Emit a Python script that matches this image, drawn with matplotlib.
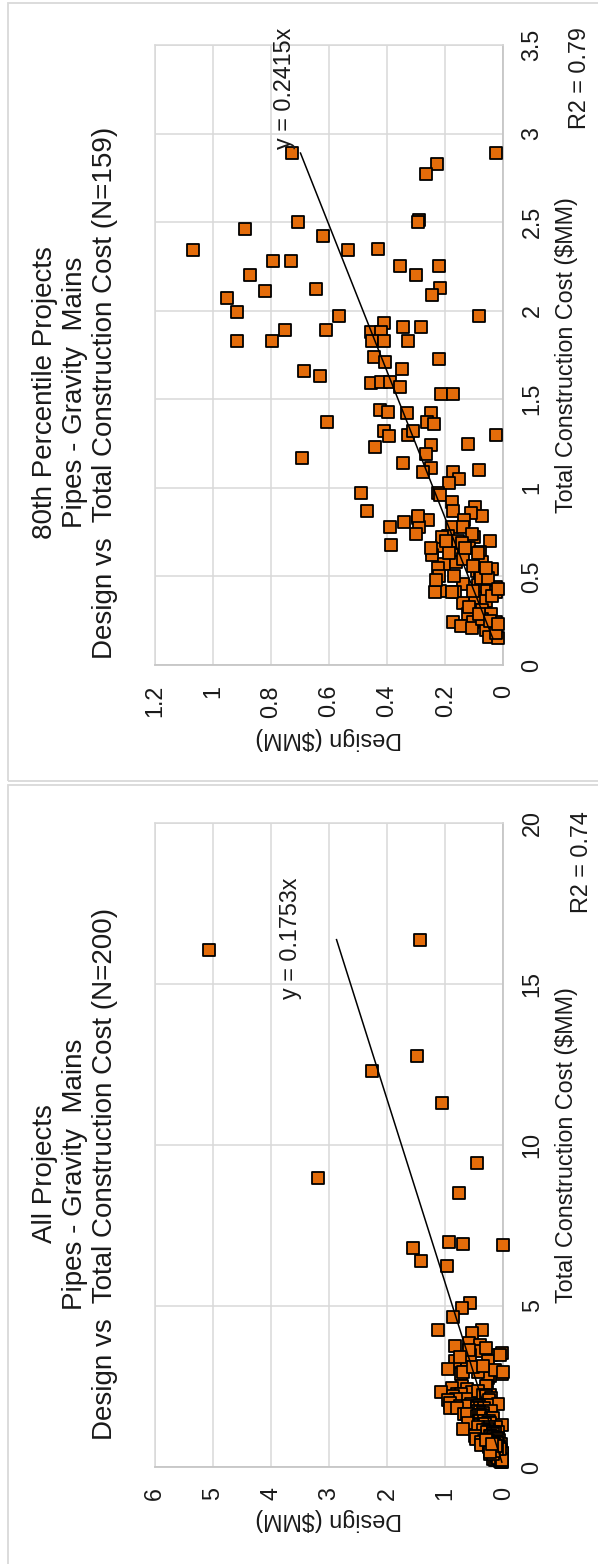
import matplotlib
matplotlib.use("Agg")
import matplotlib.pyplot as plt
from matplotlib.patches import Rectangle
import numpy as np

# ============================================================
# Data - $MM
# ============================================================
# projects up to the 80th percentile of construction cost (N=159)
cost_80 = [2.89, 2.89, 2.83, 2.77, 2.51, 2.50, 2.50, 2.46, 2.42, 2.34,
           2.34, 2.35, 2.28, 2.28, 2.25, 2.25, 2.20, 2.20, 2.12, 2.11,
           2.13, 2.09, 2.07, 1.99, 1.97, 1.97, 1.93, 1.91, 1.91, 1.89,
           1.89, 1.88, 1.88, 1.83, 1.83, 1.83, 1.83, 1.83, 1.74, 1.71,
           1.73, 1.67, 1.66, 1.63, 1.59, 1.60, 1.60, 1.57, 1.53, 1.53,
           1.37, 1.44, 1.43, 1.42, 1.42, 1.37, 1.36, 1.30, 1.32, 1.29,
           1.30, 1.32, 1.25, 1.24, 1.23, 1.19, 1.17, 1.14, 1.11, 1.09,
           1.10, 1.09, 1.05, 1.03, 0.97, 0.97, 0.96, 0.87, 0.92, 0.87,
           0.89, 0.84, 0.86, 0.82, 0.81, 0.83, 0.82, 0.78, 0.78, 0.74,
           0.78, 0.78, 0.73, 0.72, 0.70, 0.68, 0.65, 0.67, 0.65, 0.66,
           0.64, 0.62, 0.57, 0.58, 0.60, 0.58, 0.55, 0.54, 0.53, 0.51,
           0.50, 0.44, 0.46, 0.45, 0.42, 0.42, 0.41, 0.41, 0.38, 0.35,
           0.36, 0.41, 0.31, 0.29, 0.29, 0.24, 0.24, 0.24, 0.22, 0.21,
           0.20, 0.16, 0.15, 0.18, 0.26, 0.39, 0.49, 0.74, 0.49, 0.70,
           0.72, 0.69, 0.63, 0.63, 0.43, 0.42, 0.33, 0.29, 0.25, 0.23,
           0.41, 0.55, 0.56, 0.50, 0.66, 0.66, 0.48, 0.84, 0.70]
design_80 = [0.728, 0.026, 0.230, 0.265, 0.289, 0.295, 0.705, 0.889, 0.622, 1.066,
             0.534, 0.432, 0.791, 0.732, 0.357, 0.222, 0.873, 0.300, 0.643, 0.819,
             0.219, 0.247, 0.951, 0.916, 0.564, 0.085, 0.411, 0.344, 0.285, 0.752,
             0.610, 0.457, 0.420, 0.916, 0.797, 0.453, 0.409, 0.328, 0.444, 0.407,
             0.220, 0.348, 0.685, 0.630, 0.457, 0.422, 0.391, 0.354, 0.214, 0.173,
             0.607, 0.426, 0.396, 0.331, 0.249, 0.263, 0.239, 0.026, 0.411, 0.394,
             0.328, 0.312, 0.121, 0.249, 0.442, 0.265, 0.693, 0.345, 0.249, 0.278,
             0.085, 0.173, 0.151, 0.186, 0.489, 0.226, 0.217, 0.470, 0.177, 0.173,
             0.098, 0.072, 0.111, 0.135, 0.341, 0.293, 0.260, 0.391, 0.289, 0.302,
             0.177, 0.138, 0.190, 0.101, 0.046, 0.387, 0.245, 0.210, 0.177, 0.118,
             0.081, 0.245, 0.204, 0.164, 0.138, 0.075, 0.226, 0.039, 0.092, 0.081,
             0.223, 0.026, 0.140, 0.088, 0.055, 0.217, 0.236, 0.167, 0.098, 0.138,
             0.059, 0.026, 0.072, 0.042, 0.121, 0.173, 0.105, 0.026, 0.147, 0.107,
             0.059, 0.048, 0.020, 0.026, 0.072, 0.039, 0.076, 0.109, 0.052, 0.157,
             0.210, 0.144, 0.186, 0.088, 0.020, 0.105, 0.118, 0.085, 0.046, 0.020,
             0.177, 0.059, 0.105, 0.170, 0.131, 0.249, 0.232, 0.295, 0.197]

# remaining projects above the 80th percentile (41 more -> N=200)
cost_top20 = [16.06, 16.37, 12.30, 12.76, 11.30, 9.43, 8.97, 8.52, 6.81, 6.97,
              6.92, 6.88, 6.38, 6.24, 5.08, 4.95, 4.65, 4.25, 4.25, 4.15,
              3.77, 3.84, 3.79, 3.60, 3.29, 3.32, 3.48, 3.48, 3.53, 3.29,
              2.96, 2.96, 3.01, 2.96, 3.11, 3.63, 3.48, 3.70, 3.15, 3.40, 3.05]
design_top20 = [5.07, 1.44, 2.26, 1.48, 1.05, 0.45, 3.18, 0.77, 1.56, 0.93,
                0.69, 0.00, 1.42, 0.97, 0.58, 0.72, 0.87, 1.12, 0.37, 0.54,
                0.83, 0.60, 0.41, 0.46, 0.83, 0.63, 0.57, 0.22, 0.03, 0.26,
                0.69, 0.43, 0.14, 0.00, 0.52, 0.60, 0.065, 0.30, 0.35, 0.75, 0.95]

cost_all = cost_80 + cost_top20
design_all = design_80 + design_top20

panels = [
    {"title": "80th Percentile Projects\nPipes - Gravity  Mains\nDesign vs  Total Construction Cost (N=159)",
     "cost": cost_80, "design": design_80, "slope": 0.2415, "r2": "R2 = 0.79",
     "cost_ticks": [0, 0.5, 1, 1.5, 2, 2.5, 3, 3.5],
     "cost_labels": ["0", "0.5", "1", "1.5", "2", "2.5", "3", "3.5"],
     "design_ticks": [0, 0.2, 0.4, 0.6, 0.8, 1, 1.2],
     "design_labels": ["0", "0.2", "0.4", "0.6", "0.8", "1", "1.2"]},
    {"title": "All Projects\nPipes - Gravity  Mains\nDesign vs  Total Construction Cost (N=200)",
     "cost": cost_all, "design": design_all, "slope": 0.1753, "r2": "R2 = 0.74",
     "cost_ticks": [0, 5, 10, 15, 20],
     "cost_labels": ["0", "5", "10", "15", "20"],
     "design_ticks": [0, 1, 2, 3, 4, 5, 6],
     "design_labels": ["0", "1", "2", "3", "4", "5", "6"]},
]

# ============================================================
# Layout (pixel positions in a 598x1564 image)
# ============================================================
W, H = 598, 1564
def fx(x):
    return x / W
def fy(y):
    return 1 - y / H

# per panel: axes box (left, top, right, bottom) and text anchors
boxes = [(154.5, 45, 503.4, 665), (154.5, 822.7, 503.4, 1467)]
title_pos = [(75, 392.5), (75, 1174)]
eq_pos = [(284, 88.5), (290, 938.5)]
r2_pos = [(580, 78), (581.5, 862.5)]
dlabel_y = [738.3, 1520]
frames = [(7.6, 3.3, 781), (7.6, 785, 1640)]

plt.rcParams['font.family'] = ['Liberation Sans', 'DejaVu Sans']
TXT = '#1a1a1a'
ORANGE = '#E46C0A'
GRID = '#D9D9D9'

fig = plt.figure(figsize=(W / 100, H / 100), dpi=100)
fig.patch.set_facecolor('white')

for i, p in enumerate(panels):
    l, t, r, b = boxes[i]
    ax = fig.add_axes([fx(l), fy(b), (r - l) / W, (b - t) / H])

    # chart is rotated 90 deg CCW: design runs right-to-left, cost runs upward
    ax.scatter(p["design"], p["cost"], marker='s', s=66, facecolor=ORANGE,
               edgecolor='black', linewidth=1.3, zorder=3, clip_on=False)

    c_min, c_max = min(p["cost"]), max(p["cost"])
    cc = np.array([c_min, c_max])
    ax.plot(p["slope"] * cc, cc, color='black', linewidth=1.1, zorder=4)

    ax.set_xlim(p["design_ticks"][-1], 0)
    ax.set_ylim(0, p["cost_ticks"][-1])
    ax.set_xticks(p["design_ticks"])
    ax.set_xticklabels(p["design_labels"], rotation=90)
    ax.set_yticks(p["cost_ticks"])
    ax.set_yticklabels(p["cost_labels"], rotation=90, va='center')
    ax.yaxis.tick_right()
    ax.tick_params(axis='x', length=0, pad=14.4, labelsize=16.8, colors=TXT)
    ax.tick_params(axis='y', length=0, pad=12.4, labelsize=16.8, colors=TXT)

    ax.grid(True, color=GRID, linewidth=1.1)
    ax.set_axisbelow(True)
    for side in ['top', 'left']:
        ax.spines[side].set_color(GRID)
        ax.spines[side].set_linewidth(1.1)
    for side in ['bottom', 'right']:
        ax.spines[side].set_color('#C6C6C6')
        ax.spines[side].set_linewidth(1.3)

    # titles and labels
    fig.text(fx(title_pos[i][0]), fy(title_pos[i][1]), p["title"], rotation=90,
             ha='center', va='center', multialignment='center', fontsize=20,
             color=TXT, linespacing=1.2)
    fig.text(fx(566.4), fy((t + b) / 2), "Total Construction Cost ($MM)", rotation=90,
             ha='center', va='center', fontsize=16.8, color=TXT)
    fig.text(fx((l + r) / 2), fy(dlabel_y[i]), "Design ($MM)", rotation=180,
             ha='center', va='center', fontsize=16.8, color=TXT)
    fig.text(fx(eq_pos[i][0]), fy(eq_pos[i][1]), f"y = {p['slope']}x", rotation=90,
             ha='center', va='center', fontsize=16.8, color=TXT)
    fig.text(fx(r2_pos[i][0]), fy(r2_pos[i][1]), p["r2"], rotation=90,
             ha='center', va='center', fontsize=16.8, color=TXT)

    # chart frame (right side runs off the image)
    x0, y0, y1 = frames[i]
    fig.add_artist(Rectangle((fx(x0), fy(y1)), 1.2, (y1 - y0) / H,
                             transform=fig.transFigure, fill=False,
                             edgecolor=GRID, linewidth=1.3))

fig.savefig("out.png", dpi=100, facecolor='white')
